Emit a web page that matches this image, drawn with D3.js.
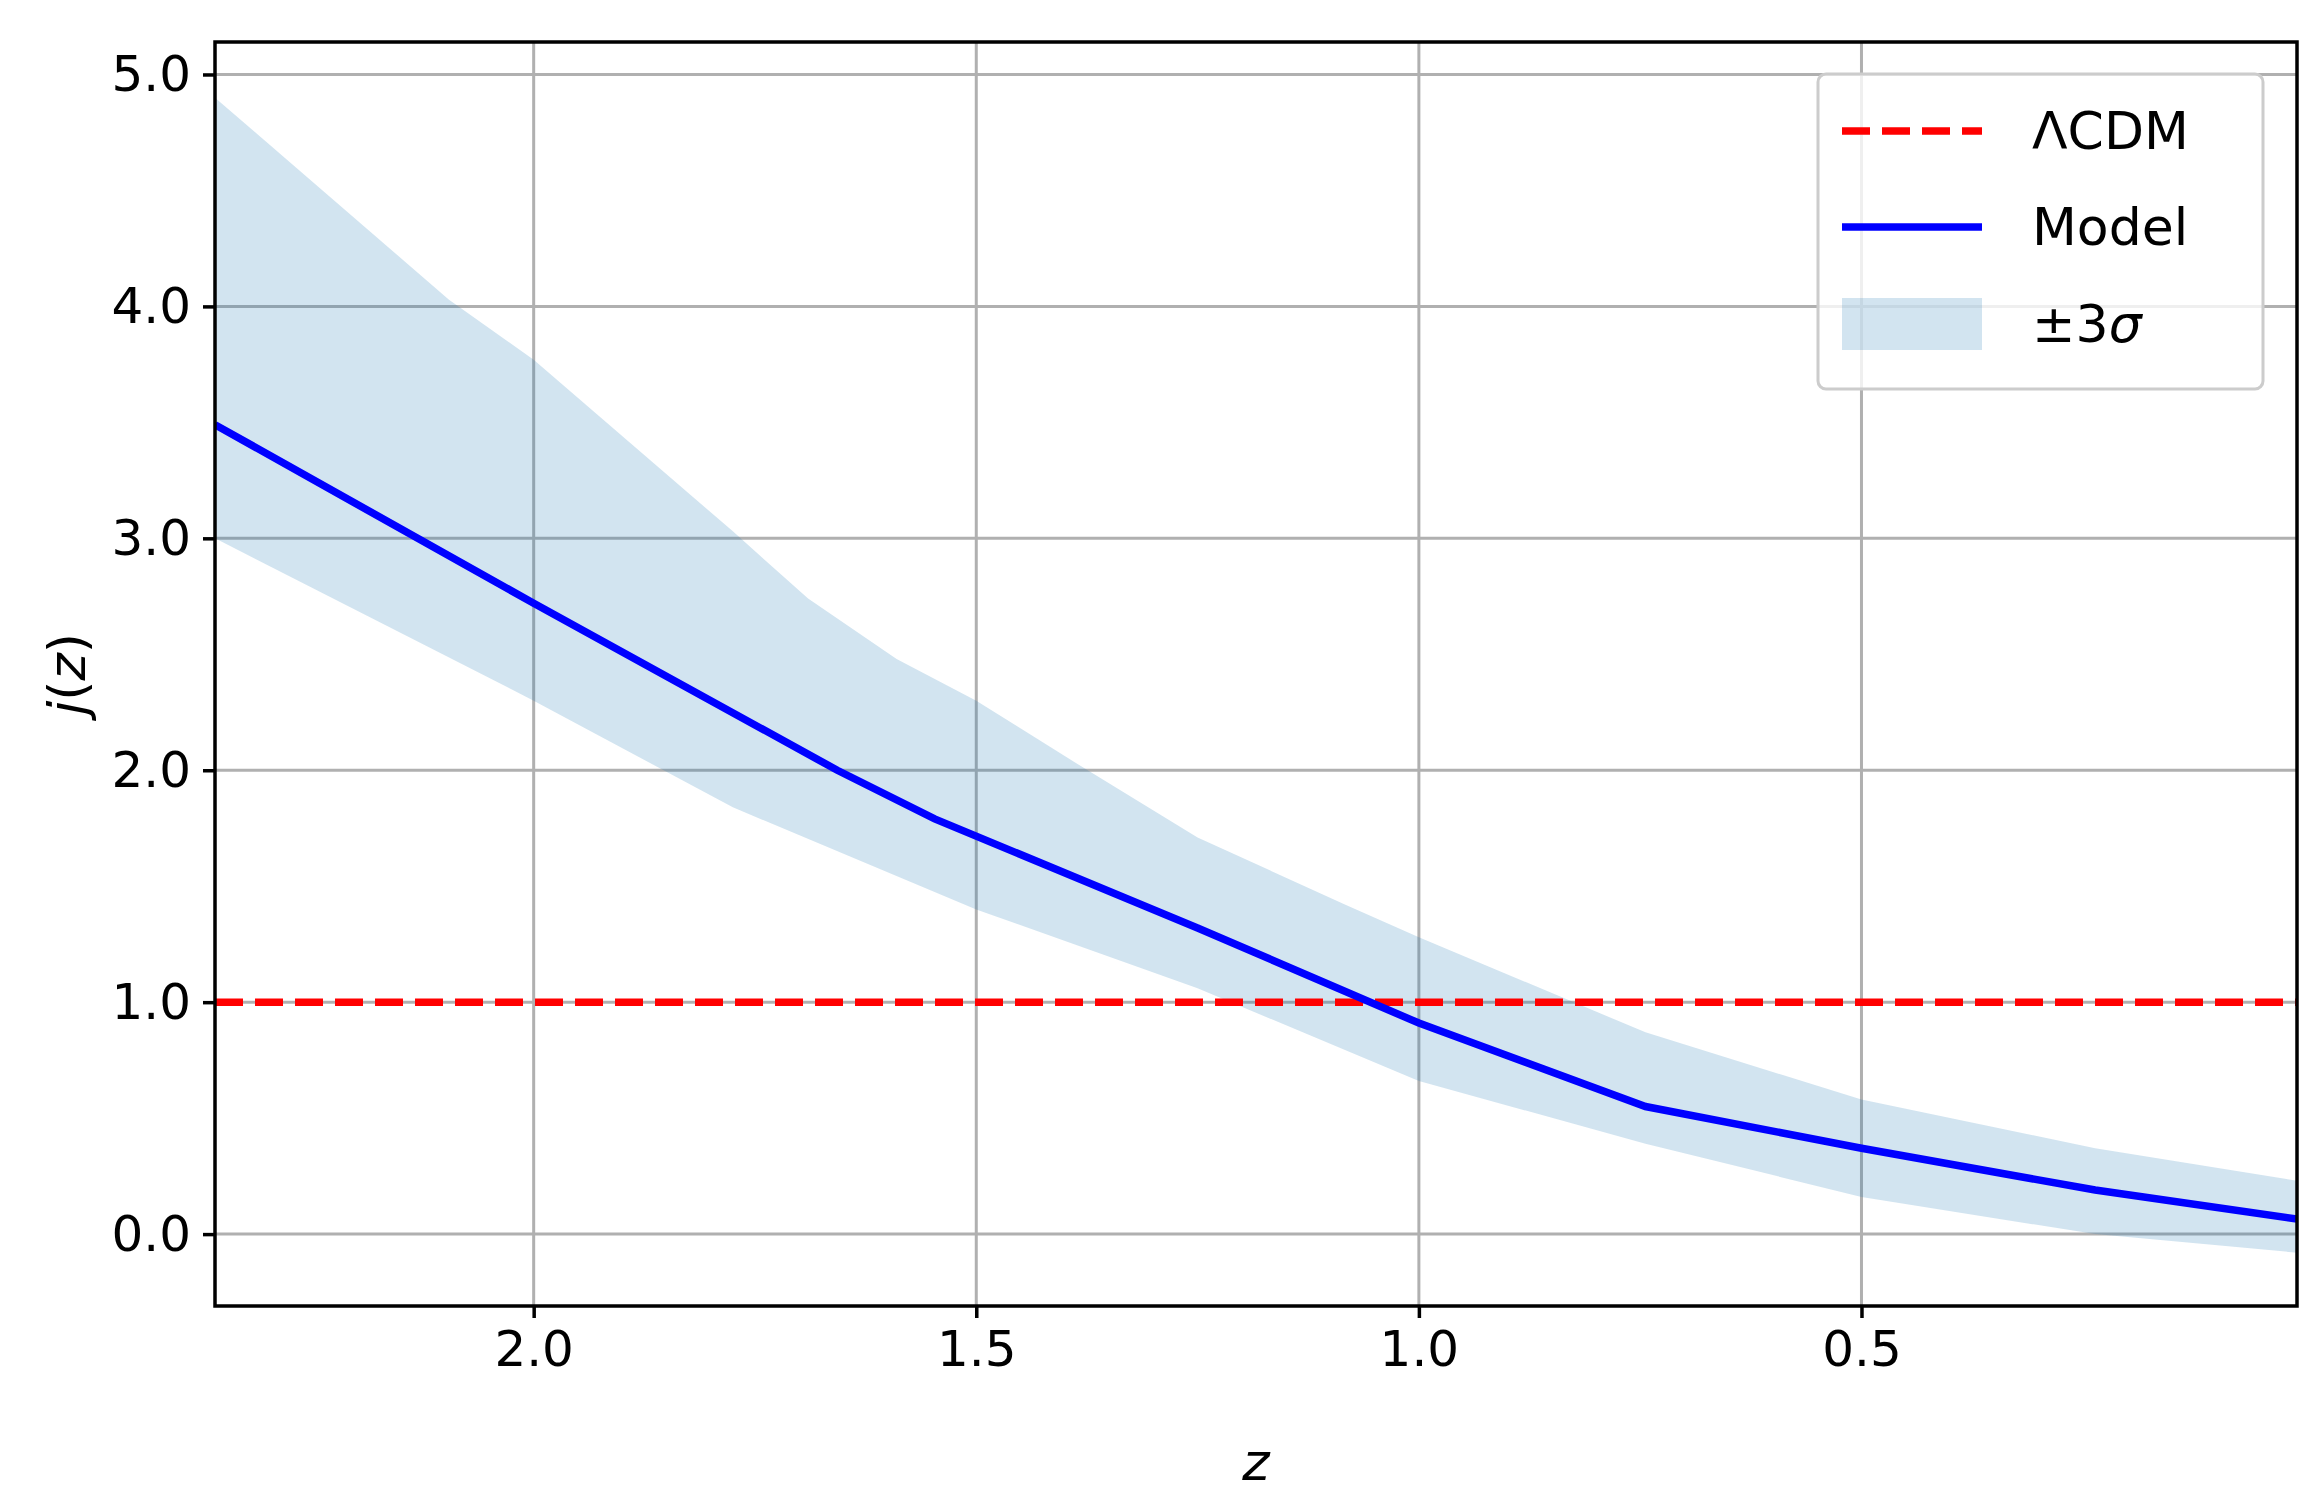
<!DOCTYPE html>
<html><head><meta charset="utf-8">
<script src="https://cdn.jsdelivr.net/npm/d3@7"></script>
<style>body{margin:0;background:#fff}text{font-family:"DejaVu Sans"}</style>
</head><body><svg id="c" width="2322" height="1497"></svg>
<script>
const modelZ = [2.36, 2.0, 1.657, 1.547, 1.25, 1.0, 0.744, 0.5, 0.236, 0.008];
const modelJ = [3.49, 2.72, 2.0, 1.79, 1.32, 0.91, 0.55, 0.37, 0.19, 0.065];
const upperZ = [2.36, 2.096, 2.0, 1.775, 1.69, 1.59, 1.5, 1.387, 1.25, 1.083, 1.0, 0.744, 0.5, 0.236, 0.008];
const upperJ = [4.9, 4.03, 3.77, 3.03, 2.74, 2.48, 2.30, 2.03, 1.71, 1.42, 1.28, 0.87, 0.58, 0.37, 0.23];
const lowerZ = [2.36, 2.0, 1.775, 1.5, 1.25, 1.0, 0.744, 0.5, 0.236, 0.008];
const lowerJ = [3.0, 2.30, 1.84, 1.40, 1.06, 0.66, 0.39, 0.16, 0.0, -0.08];
const xTicks = [2.0, 1.5, 1.0, 0.5];
const yTicks = [0, 1, 2, 3, 4, 5];
const lcdmJ = 1;

const L=215,R=2297,T=42,B=1306;
const svg=d3.select("#c");
const x=d3.scaleLinear().domain([2.36,0.008]).range([L,R]);
const y=d3.scaleLinear().domain([-0.31,5.14]).range([B,T]);
const g=svg.append("g");
g.selectAll(".gx").data(xTicks).join("line").attr("x1",d=>x(d)).attr("x2",d=>x(d)).attr("y1",T).attr("y2",B).attr("stroke","#b0b0b0").attr("stroke-width",3);
g.selectAll(".gy").data(yTicks).join("line").attr("y1",d=>y(d)).attr("y2",d=>y(d)).attr("x1",L).attr("x2",R).attr("stroke","#b0b0b0").attr("stroke-width",3);

const clip=svg.append("clipPath").attr("id","cp").append("rect").attr("x",L).attr("y",T).attr("width",R-L).attr("height",B-T);
const pg=svg.append("g").attr("clip-path","url(#cp)");
// band polygon
const up=upperZ.map((z,i)=>[x(z),y(upperJ[i])]);
const lo=lowerZ.map((z,i)=>[x(z),y(lowerJ[i])]).reverse();
pg.append("path").attr("d",d3.line()(up.concat(lo))+"Z").attr("fill","#1f77b4").attr("fill-opacity",0.2);
pg.append("line").attr("x1",L).attr("x2",R).attr("y1",y(lcdmJ)).attr("y2",y(lcdmJ)).attr("stroke","red").attr("stroke-width",7.5).attr("stroke-dasharray","28,12");
pg.append("path").datum(modelZ.map((z,i)=>[z,modelJ[i]])).attr("d",d3.line().x(d=>x(d[0])).y(d=>y(d[1]))).attr("fill","none").attr("stroke","blue").attr("stroke-width",7.5);

// axes
svg.append("g").attr("transform",`translate(0,${B})`).call(d3.axisBottom(x).tickValues(xTicks).tickFormat(d3.format(".1f")).tickSize(12).tickPadding(12))
 .call(a=>{a.select(".domain").remove();a.selectAll("line").attr("stroke-width",3.5);a.selectAll("text").attr("font-size",50).attr("font-family","DejaVu Sans");});
svg.append("g").attr("transform",`translate(${L},0)`).call(d3.axisLeft(y).tickValues(yTicks).tickSize(12).tickPadding(12))
 .call(a=>{a.select(".domain").remove();a.selectAll("line").attr("stroke-width",3.5);a.selectAll("text").attr("font-size",50).attr("font-family","DejaVu Sans");});
svg.append("rect").attr("x",L).attr("y",T).attr("width",R-L).attr("height",B-T).attr("fill","none").attr("stroke","black").attr("stroke-width",3.5);

svg.append("text").attr("x",(L+R)/2).attr("y",1480).attr("text-anchor","middle").attr("font-size",52).attr("font-style","italic").text("z");
svg.append("text").attr("transform",`translate(85,${(T+B)/2}) rotate(-90)`).attr("text-anchor","middle").attr("font-size",52)
 .html('<tspan font-style="italic">j</tspan>(<tspan font-style="italic">z</tspan>)');

// legend
const lg=svg.append("g");
lg.append("rect").attr("x",1818).attr("y",74).attr("width",445).attr("height",315).attr("rx",8).attr("fill","white").attr("fill-opacity",0.8).attr("stroke","#ccc").attr("stroke-width",3);
lg.append("line").attr("x1",1842).attr("x2",1982).attr("y1",131).attr("y2",131).attr("stroke","red").attr("stroke-width",7.5).attr("stroke-dasharray","28,12");
lg.append("line").attr("x1",1842).attr("x2",1982).attr("y1",227).attr("y2",227).attr("stroke","blue").attr("stroke-width",7.5);
lg.append("rect").attr("x",1842).attr("y",298).attr("width",140).attr("height",52).attr("fill","#1f77b4").attr("fill-opacity",0.2);
const lt=[["ΛCDM",131],["Model",227],["±3σ",324]];
lt.forEach(([t,yy],i)=>{const e=lg.append("text").attr("x",2032).attr("y",yy+18).attr("font-size",52);
 if(i==2){e.text("±3");e.append("tspan").attr("font-style","italic").text("σ");} else e.text(t);});
</script></body></html>
